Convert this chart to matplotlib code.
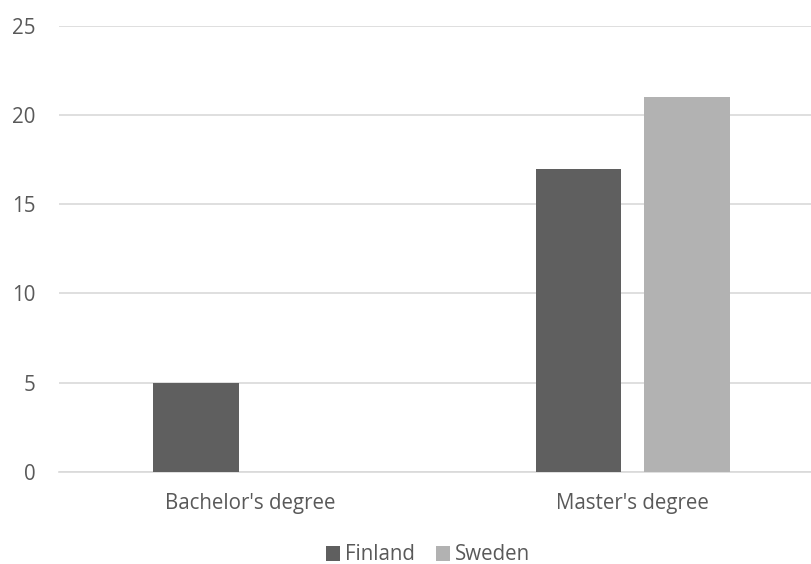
import matplotlib
matplotlib.use("Agg")
import matplotlib.pyplot as plt
import numpy as np

categories = ["Bachelor's degree", "Master's degree"]
series_names = ["Finland", "Sweden"]
finland = [5, 17]
sweden = [0, 21]
y_ticks = [0, 5, 10, 15, 20, 25]

plt.rcParams['font.family'] = ['Open Sans', 'DejaVu Sans']
text_color = "#595959"
colors = ["#5f5f5f", "#b2b2b2"]

W, H = 812, 564
fig = plt.figure(figsize=(W / 100, H / 100), dpi=100)
left, right = 58.75, 824.0
bottom, top = 471.7, 26.0
ax = fig.add_axes([left / W, (H - bottom) / H, (right - left) / W, (bottom - top) / H])

x = np.arange(len(categories))
bw = 0.2235
off = 0.1418
ax.bar(x - off, finland, width=bw, color=colors[0], label=series_names[0], zorder=3)
ax.bar(x + off, sweden, width=bw, color=colors[1], label=series_names[1], zorder=3)

ax.set_xlim(-0.5, 1.5)
ax.set_ylim(0, 25)
ax.set_yticks(y_ticks)
ax.yaxis.grid(True, color="#d9d9d9", linewidth=1.2, zorder=0)
ax.set_axisbelow(True)
for s in ["top", "right", "left"]:
    ax.spines[s].set_visible(False)
ax.spines["bottom"].set_color("#d9d9d9")
ax.spines["bottom"].set_linewidth(1.2)
fs = 14.8
ax.tick_params(axis="both", length=0, labelsize=fs, colors=text_color)
ax.tick_params(axis="y", pad=17)
ax.tick_params(axis="x", pad=15.5)
ax.set_xticks(x)
ax.set_xticklabels(categories)
for lbl in ax.get_yticklabels():
    lbl.set_horizontalalignment("right")

leg = fig.legend(loc="center", bbox_to_anchor=(428 / W, (H - 555) / H), ncol=2, frameon=False,
                 fontsize=fs, handlelength=0.7, handleheight=0.7, handletextpad=0.25,
                 columnspacing=1.0, borderpad=0)
for t in leg.get_texts():
    t.set_color(text_color)

fig.savefig("out.png", dpi=100)
